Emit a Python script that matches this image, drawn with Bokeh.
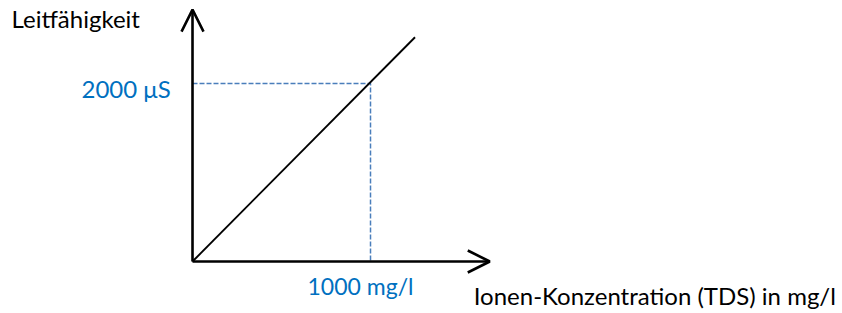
from bokeh.plotting import figure
from bokeh.models import ColumnDataSource, Arrow, OpenHead, Range1d
from bokeh.core.properties import value
from bokeh.embed import file_html
from bokeh.resources import INLINE

# Data (schematic: conductivity vs TDS concentration)
line_x = [0, 1250]
line_y = [0, 2520]
ref_x = 1000          # mg/l
ref_y = 2000          # µS
x_axis_end = 1670
y_axis_end = 2830
x_label = "Ionen-Konzentration (TDS) in mg/l"
y_label = "Leitfähigkeit"
x_tick_label = "1000 mg/l"
y_tick_label = "2000 \u03bcS"

W, H = 842, 313
p = figure(width=W, height=H, output_backend="svg", toolbar_location=None,
           x_range=Range1d(-1078.7, 3651.6), y_range=Range1d(-584.3, 2932.6),
           min_border=0)
p.axis.visible = False
p.grid.visible = False
p.outline_line_color = None
p.background_fill_color = "white"
p.border_fill_color = "white"

FONT = "Lato"
BLUE_TXT = "#0070C0"
BLUE_DASH = "#4A7EBB"

# dashed reference lines
p.line([0, ref_x, ref_x], [ref_y, ref_y, 0], line_color=BLUE_DASH,
       line_width=1.5, line_dash="5 2")

# diagonal
p.line(line_x, line_y, line_color="black", line_width=1.9)

# axes with open arrow heads
axes = ColumnDataSource(dict(x0=[0, 0], y0=[0, 0], x1=[x_axis_end, 0], y1=[0, y_axis_end]))
p.add_layout(Arrow(source=axes, x_start="x0", y_start="y0", x_end="x1", y_end="y1",
                   line_color="black", line_width=2.6,
                   end=OpenHead(size=22, line_width=2.6, line_color="black")))

# labels
p.text(x=[0], y=[ref_y], text=[y_tick_label], text_align="left", text_baseline="alphabetic",
       x_offset=-111, y_offset=5, text_font=value(FONT), text_font_size="24px",
       text_color=BLUE_TXT)
p.text(x=[ref_x], y=[0], text=[x_tick_label], text_align="left", text_baseline="alphabetic",
       x_offset=-63, y_offset=25, text_font=value(FONT), text_font_size="23px",
       text_color=BLUE_TXT)
p.text(x=[x_axis_end], y=[0], text=[x_label], text_align="left", text_baseline="alphabetic",
       x_offset=-16, y_offset=34, text_font=value(FONT), text_font_size="24px",
       text_color="black")
p.text(x=[0], y=[y_axis_end], text=[y_label], text_align="left", text_baseline="alphabetic",
       x_offset=-181, y_offset=8.5, text_font=value(FONT), text_font_size="24px",
       text_color="black")

open("out.html", "w").write(file_html(p, INLINE))
